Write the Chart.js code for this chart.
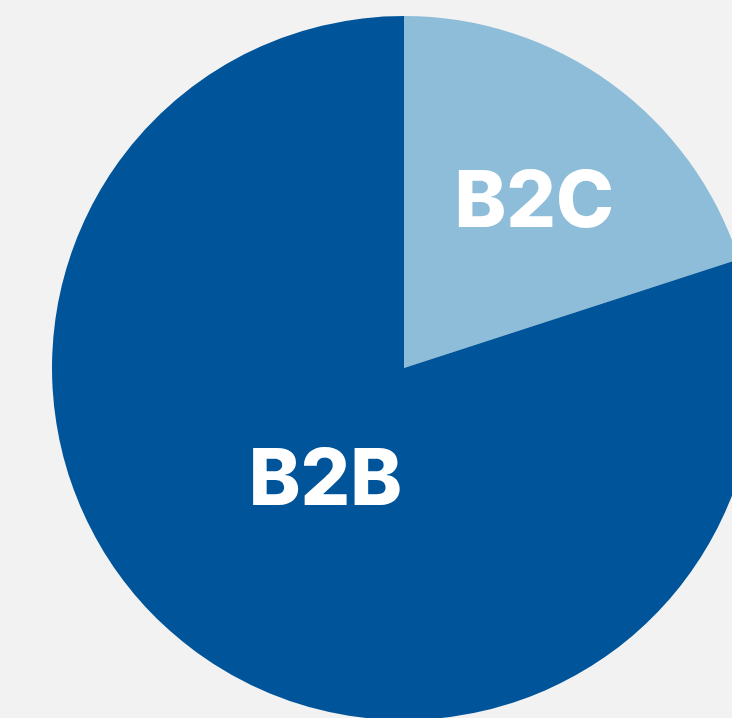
<!DOCTYPE html>
<html>
<head>
<meta charset="utf-8">
<script src="https://cdn.jsdelivr.net/npm/chart.js@4/dist/chart.umd.min.js"></script>
<style>
  html, body { margin: 0; padding: 0; background: #f2f2f2; overflow: hidden; width: 732px; height: 718px; }
  #wrap { position: absolute; left: 52px; top: 16px; width: 704px; height: 704px; }
</style>
</head>
<body>
<div id="wrap"><canvas id="pieChart" width="704" height="704"></canvas></div>
<script>
const segments = ['B2C', 'B2B'];
const shares = [20, 80];
const colors = ['#8dbdd9', '#00559a'];

// label distance from centre (fraction of radius) and small nudges, per slice
const labelRadius = [0.61, 0.38];
const labelNudge = [[4, 4], [0, 0]];

const sliceLabels = {
    id: 'sliceLabels',
    afterDatasetsDraw(chart) {
        const ctx = chart.ctx;
        const arcs = chart.getDatasetMeta(0).data;
        ctx.save();
        ctx.fillStyle = '#ffffff';
        ctx.font = '800 78px Inter';
        ctx.textAlign = 'center';
        ctx.textBaseline = 'alphabetic';
        arcs.forEach(function (arc, i) {
            const mid = (arc.startAngle + arc.endAngle) / 2;
            const r = arc.outerRadius * labelRadius[i];
            const x = arc.x + Math.cos(mid) * r + labelNudge[i][0];
            const y = arc.y + Math.sin(mid) * r + labelNudge[i][1];
            ctx.fillText(chart.data.labels[i], x, y + 29);
        });
        ctx.restore();
    },
};

new Chart(document.getElementById('pieChart'), {
    type: 'pie',
    data: {
        labels: segments,
        datasets: [
            {
                data: shares,
                backgroundColor: colors,
                borderWidth: 0,
            },
        ],
    },
    options: {
        responsive: false,
        animation: false,
        layout: { padding: 0 },
        plugins: {
            legend: { display: false },
            tooltip: { enabled: false },
        },
    },
    plugins: [sliceLabels],
});
</script>
</body>
</html>
